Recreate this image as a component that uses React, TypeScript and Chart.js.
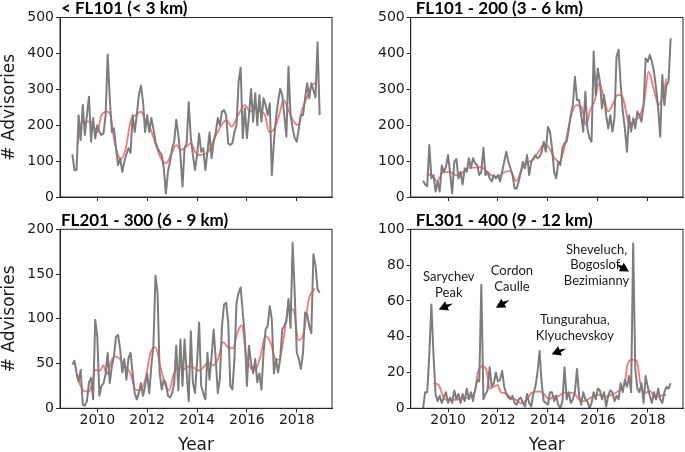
import React, { useEffect, useRef } from "react";
import { Chart, registerables } from "chart.js";

Chart.register(...registerables);

// ---------- data ----------
const FIRST_YEAR = 2009; // first monthly value = Jan 2009
const YEAR_TICKS = [2010, 2012, 2014, 2016, 2018];

// < FL101 (< 3 km): monthly advisories
const belowFL101 = [
  119, 75, 75, 228, 159, 256, 173, 228, 279, 154,
  220, 163, 200, 181, 173, 177, 228, 397, 275, 181,
  191, 136, 89, 108, 70, 98, 119, 136, 123, 228,
  181, 228, 284, 310, 266, 181, 228, 181, 220, 191,
  154, 136, 126, 117, 80, 10, 70, 98, 136, 154,
  215, 173, 117, 29, 136, 150, 264, 165,
  117, 75, 117, 177, 126, 136, 75, 126, 180, 108,
  154, 181, 220, 200, 238, 242, 228, 150, 145, 150,
  181, 200, 321, 360, 164, 247, 164, 228, 301, 210,
  289, 200, 284, 210, 275, 256, 228, 261, 61, 154,
  220, 266, 301, 284, 228, 168, 363, 228, 191, 164,
  154, 191, 228, 228, 275, 317, 275, 317, 298, 277,
  431, 228,
];
// smoothed curve: [month index from Jan 2009, value]
const belowFL101Smooth: [number, number][] = [
  [2.6, 150], [4.8, 210], [8.7, 210], [12, 181], [14, 228], [16.8, 238], [18.4, 228],
  [20, 163], [22, 117], [23.3, 105], [25.7, 136], [28, 210], [30.5, 228], [33, 238],
  [35.4, 210], [37.5, 191], [40.2, 145], [42.6, 108], [45, 94], [47.5, 117], [50, 145],
  [52.3, 131], [54.8, 140], [57.2, 150], [59, 126], [61.2, 117], [65.3, 126], [68.5, 164],
  [71.7, 200], [74.2, 214], [76.6, 196], [79.8, 228], [83, 256], [85.5, 238], [87.9, 247],
  [90.3, 238], [92.7, 228], [94.7, 181], [96.8, 186], [99.5, 228], [101.6, 270], [104, 242],
  [106.5, 210], [108.6, 200], [110.5, 242], [113, 279], [115, 307], [116.7, 317], [117.5, 311],
];

// FL101 - 200 (3 - 6 km)
const fl101to200 = [
  45, 35, 30, 145, 52, 61, 15, 43, 15, 88,
  70, 84, 117, 66, 10, 98, 106, 52, 70, 35,
  80, 70, 108, 80, 108, 94, 89, 61, 70, 137,
  61, 70, 52, 43, 61, 52, 61, 43, 70, 98,
  126, 98, 80, 61, 24, 24, 43, 70, 98, 80,
  117, 61, 98, 108, 117, 108,
  112, 126, 154, 126, 196, 182, 136, 70, 52, 98,
  89, 136, 150, 154, 187, 228, 256, 335, 270, 270,
  228, 182, 293, 191, 164, 154, 405, 284, 358, 321,
  247, 284, 228, 191, 228, 182, 219, 391, 410, 312,
  238, 191, 126, 228, 182, 219, 191, 238, 228, 210,
  256, 386, 377, 396, 377, 349, 303, 247, 168, 340,
  256, 312, 321, 442,
];
const fl101to200Smooth: [number, number][] = [
  [1.8, 65], [5, 56], [6.6, 44], [9.5, 68], [13, 70], [16, 60], [19.5, 70], [22, 82],
  [25.2, 82], [27.6, 84], [30.5, 72], [33, 60], [35.5, 54], [38.5, 68], [42, 72], [44.8, 44],
  [47.5, 78], [50, 95], [53, 105], [56, 130], [58.3, 147], [60.7, 136], [63.2, 108], [65.6, 98],
  [68, 140], [71.2, 228], [73.7, 256], [76.1, 251], [78.5, 200], [80.1, 238], [82.6, 270],
  [84.7, 317], [86.6, 284], [89, 238], [91.4, 261], [93.4, 284], [95.5, 284], [97.6, 238],
  [99.2, 200], [101.5, 214], [104, 224], [106.3, 266], [108.4, 349], [110.8, 303],
  [113.3, 256], [115.7, 293], [117, 330],
];

// FL201 - 300 (6 - 9 km)
const fl201to300 = [
  49, 53, 40, 30, 43, 4, 3, 8, 29, 34,
  10, 99, 80, 14, 25, 28, 38, 62, 28, 47,
  58, 80, 82, 66, 40, 55, 32, 56, 62, 39,
  17, 10, 17, 28, 14, 25, 39, 17, 47, 70,
  148, 129, 40, 21, 32, 28, 14, 12, 17, 28,
  70, 20, 77, 25, 77, 40, 8, 86,
  29, 17, 51, 96, 25, 17, 10, 62, 32, 58,
  88, 55, 17, 33, 92, 116, 118, 96, 25, 21,
  55, 118, 129, 135, 107, 80, 25, 70, 51, 39,
  55, 29, 39, 21, 62, 88, 92, 114, 99, 39,
  55, 40, 55, 88, 92, 97, 122, 90, 185, 129,
  62, 55, 44, 62, 107, 105, 92, 84, 172, 160,
  133, 129,
];
const fl201to300Smooth: [number, number][] = [
  [1.9, 38], [3.6, 27], [6, 19], [8.2, 19], [9.5, 28], [11, 43], [13.3, 42], [14.9, 48],
  [16.5, 38], [19, 54], [20.6, 58], [23, 55], [25.4, 47], [27.9, 39], [30.3, 21], [32.7, 20],
  [35.2, 33], [37.6, 62], [40, 68], [42.5, 45], [44.9, 25], [46.5, 20], [48.9, 39], [51.4, 46],
  [53.8, 44], [56.2, 47], [58.7, 45], [61.1, 42], [63.5, 47], [65.2, 51], [67.6, 48], [70, 54],
  [72.5, 74], [74.9, 68], [77.2, 67], [79.6, 86], [81.5, 93], [83.5, 62], [85.4, 47],
  [87.8, 42], [90.5, 58], [92.9, 81], [95.3, 74], [97.8, 55], [99.5, 54], [101.8, 80],
  [104, 112], [106.4, 110], [108.9, 76], [111.3, 84], [113.8, 122], [116.7, 134],
];

// FL301 - 400 (9 - 12 km)
const fl301to400 = [
  0, 9, 9, 30, 58, 30, 8, 4, 7, 3,
  6, 9, 3, 6, 3, 10, 5, 8, 3, 8,
  4, 11, 5, 9, 4, 10, 16, 15, 69, 5,
  8, 10, 23, 12, 14, 20, 15, 16, 21, 12,
  8, 6, 5, 7, 3, 2, 5, 6, 3, 1,
  8, 3, 1, 8, 12, 20, 32,
  14, 4, 3, 2, 9, 9, 4, 7, 2, 0,
  4, 23, 5, 9, 3, 5, 9, 22, 7, 2,
  9, 5, 4, 0, 3, 9, 5, 11, 10, 5,
  9, 1, 7, 10, 9, 4, 7, 5, 14, 9,
  16, 12, 18, 9,
  92, 22, 11, 9, 14, 3, 18, 12, 7, 3,
  9, 5, 11, 5, 3, 9, 12, 11, 14,
];
const fl301to400Smooth: [number, number][] = [
  [5, 14], [7.5, 13], [9.5, 7], [11, 4.7], [14, 4.7], [17.2, 5], [20.4, 5.6], [23, 6.5],
  [25, 10], [26.5, 21], [28.5, 23.5], [30.5, 21], [32, 11], [33.8, 12], [35.8, 13],
  [37.4, 9], [39.9, 8.4], [42.3, 5.6], [44.7, 4.7], [47.2, 2.8], [49.6, 4.7], [52, 8.4],
  [54.5, 9.3], [56.9, 9.3], [58.5, 7.4], [60.5, 5], [62.6, 6.5], [65.3, 7], [68, 8.8],
  [70.5, 8.6], [72.3, 8.6], [74.9, 5], [77.5, 4], [80, 5.6], [82.3, 7], [85, 7.5], [87.5, 6.5],
  [90.5, 7.5], [93.4, 9.3], [95.5, 11], [97, 14], [98.2, 24], [100.3, 27.2], [102.7, 26.4],
  [104.4, 14.3], [106.8, 8.7], [109.2, 9.6], [111.6, 5.9], [114, 7], [116.8, 7.6],
];

// eruption labels on the FL301-400 panel (data units: year, advisories)
const eruptionNotes = [
  { lines: ["Sarychev", "Peak"], at: [2010.03, 68.9], tip: [2009.63, 55.2], tail: [2010.12, 58.1] },
  { lines: ["Cordon", "Caulle"], at: [2012.56, 72.2], tip: [2011.92, 56.2], tail: [2012.39, 60.0] },
  { lines: ["Tungurahua,", "Klyuchevskoy"], at: [2015.08, 45.1], tip: [2014.15, 30.2], tail: [2014.66, 33.0] },
  { lines: ["Sheveluch,", "Bogoslof,", "Bezimianny"], at: [2015.95, 80.1], tip: [2017.25, 76.4], tail: [2016.82, 79.9] },
];

// ---------- styling ----------
const AXIS_COLOR = "#262626";
const GREY = "#7d7d7d";
const RED = "rgba(255, 30, 30, 0.62)";
const TICK_FONT = { family: "'DejaVu Sans', sans-serif", size: 14 };
const AXIS_TITLE_FONT = { family: "'DejaVu Sans', sans-serif", size: 17, lineHeight: 1 };
const X_TITLE_FONT = { family: "'DejaVu Sans', sans-serif", size: 17, lineHeight: 0.8 };

type Panel = {
  title: string;
  monthly: number[];
  smooth: [number, number][];
  yMax: number;
  yStep: number;
  box: { left: number; top: number; width: number; height: number };
  area: { left: number; top: number; right: number; bottom: number };
  titleDx: number;
  yTitle: boolean;
  xLabels: boolean;
  notes: typeof eruptionNotes;
};

const PANELS: Panel[] = [
  {
    title: "< FL101 (< 3 km)", monthly: belowFL101, smooth: belowFL101Smooth, yMax: 500, yStep: 100,
    box: { left: 0, top: 0, width: 342, height: 212 }, area: { left: 60, top: 17.5, right: 10, bottom: 15 },
    titleDx: 1, yTitle: true, xLabels: false, notes: [],
  },
  {
    title: "FL101 - 200 (3 - 6 km)", monthly: fl101to200, smooth: fl101to200Smooth, yMax: 500, yStep: 100,
    box: { left: 342, top: 0, width: 343, height: 212 }, area: { left: 68.7, top: 17.5, right: 2, bottom: 15 },
    titleDx: 5, yTitle: false, xLabels: false, notes: [],
  },
  {
    title: "FL201 - 300 (6 - 9 km)", monthly: fl201to300, smooth: fl201to300Smooth, yMax: 200, yStep: 50,
    box: { left: 0, top: 212, width: 342, height: 240 }, area: { left: 60, top: 17.3, right: 10, bottom: 43.7 },
    titleDx: 1, yTitle: true, xLabels: true, notes: [],
  },
  {
    title: "FL301 - 400 (9 - 12 km)", monthly: fl301to400, smooth: fl301to400Smooth, yMax: 100, yStep: 20,
    box: { left: 342, top: 212, width: 343, height: 240 }, area: { left: 68.7, top: 17.3, right: 2, bottom: 43.7 },
    titleDx: 5, yTitle: false, xLabels: true, notes: eruptionNotes,
  },
];

const decorPlugin = {
  id: "panelDecor",
  afterDraw(chart: any, _args: any, opts: any) {
    const { ctx, chartArea: a, scales } = chart;
    ctx.save();
    // full frame (all four spines)
    ctx.strokeStyle = AXIS_COLOR;
    ctx.lineWidth = 1;
    ctx.strokeRect(a.left, a.top, a.right - a.left, a.bottom - a.top);
    // panel title
    ctx.fillStyle = "#000";
    ctx.font = "bold 17px Lato, sans-serif";
    ctx.textAlign = "left";
    ctx.textBaseline = "alphabetic";
    ctx.fillText(opts.title, a.left + opts.titleDx, a.top - 3.8);
    // eruption notes
    const notes = opts.notes || [];
    for (const n of notes) {
      const cx = scales.x.getPixelForValue(n.at[0]);
      const cy = scales.y.getPixelForValue(n.at[1]);
      const lh = 15.5;
      ctx.font = "13px Lato, sans-serif";
      ctx.fillStyle = "#1a1a1a";
      ctx.textAlign = "center";
      ctx.textBaseline = "middle";
      const y0 = cy - ((n.lines.length - 1) * lh) / 2;
      n.lines.forEach((t: string, i: number) => ctx.fillText(t, cx, y0 + i * lh));
      // fancy arrow
      const tx = scales.x.getPixelForValue(n.tip[0]);
      const ty = scales.y.getPixelForValue(n.tip[1]);
      const sx = scales.x.getPixelForValue(n.tail[0]);
      const sy = scales.y.getPixelForValue(n.tail[1]);
      const dx = tx - sx, dy = ty - sy;
      const len = Math.hypot(dx, dy) || 1;
      const ux = dx / len, uy = dy / len;
      const nx = -uy, ny = ux;
      const headLen = 9, headW = 5, stemW = 1.6;
      const bx = tx - ux * headLen, by = ty - uy * headLen;
      ctx.fillStyle = "#000";
      ctx.beginPath();
      ctx.moveTo(tx, ty);
      ctx.lineTo(bx + nx * headW, by + ny * headW);
      ctx.lineTo(bx + nx * stemW, by + ny * stemW);
      ctx.lineTo(sx - ux * 2, sy - uy * 2);
      ctx.lineTo(bx - nx * stemW, by - ny * stemW);
      ctx.lineTo(bx - nx * headW, by - ny * headW);
      ctx.closePath();
      ctx.fill();
    }
    ctx.restore();
  },
};

function buildConfig(p: Panel): any {
  const lastX = FIRST_YEAR + (p.monthly.length - 1) / 12;
  const span = lastX - FIRST_YEAR;
  const xMin = FIRST_YEAR - 0.05 * span;
  const xMax = lastX + 0.05 * span;
  const gridOpts = {
    display: true,
    drawOnChartArea: false,
    drawTicks: true,
    tickLength: 4,
    tickColor: AXIS_COLOR,
    tickWidth: 1,
  };
  return {
    type: "line",
    data: {
      datasets: [
        {
          data: p.monthly.map((v, i) => ({ x: FIRST_YEAR + i / 12, y: v })),
          borderColor: GREY,
          borderWidth: 2,
          pointRadius: 0,
          tension: 0,
          borderJoinStyle: "round",
          fill: false,
        },
        {
          data: p.smooth.map(([m, v]) => ({ x: FIRST_YEAR + m / 12, y: v })),
          borderColor: RED,
          borderWidth: 1.8,
          pointRadius: 0,
          cubicInterpolationMode: "monotone",
          fill: false,
        },
      ],
    },
    options: {
      animation: false,
      responsive: false,
      devicePixelRatio: 1,
      events: [],
      layout: { padding: { left: 0, top: p.area.top, right: p.area.right, bottom: 0 } },
      plugins: {
        legend: { display: false },
        tooltip: { enabled: false },
        panelDecor: { title: p.title, titleDx: p.titleDx, notes: p.notes },
      },
      scales: {
        x: {
          type: "linear",
          min: xMin,
          max: xMax,
          afterBuildTicks: (s: any) => {
            s.ticks = YEAR_TICKS.map((value) => ({ value }));
          },
          afterFit: (s: any) => {
            s.height = p.area.bottom;
          },
          grid: gridOpts,
          border: { display: true, color: AXIS_COLOR, width: 1 },
          ticks: {
            autoSkip: false,
            maxRotation: 0,
            padding: 0,
            font: TICK_FONT,
            color: "#1a1a1a",
            callback: (v: number) => (p.xLabels ? String(v) : ""),
          },
          title: {
            display: p.xLabels,
            text: "Year",
            font: X_TITLE_FONT,
            color: "#1a1a1a",
            padding: { top: 0, bottom: 0 },
          },
        },
        y: {
          min: 0,
          max: p.yMax,
          afterFit: (s: any) => {
            s.width = p.area.left;
          },
          grid: gridOpts,
          border: { display: true, color: AXIS_COLOR, width: 1 },
          ticks: { stepSize: p.yStep, padding: 2, font: TICK_FONT, color: "#1a1a1a" },
          title: {
            display: p.yTitle,
            text: "# Advisories",
            font: AXIS_TITLE_FONT,
            color: "#1a1a1a",
            padding: { top: 1.5, bottom: 0 },
          },
        },
      },
    },
    plugins: [decorPlugin],
  };
}

function PanelChart({ panel }: { panel: Panel }) {
  const ref = useRef<HTMLCanvasElement | null>(null);
  useEffect(() => {
    if (!ref.current) return;
    const chart = new Chart(ref.current, buildConfig(panel));
    return () => chart.destroy();
  }, [panel]);
  const { left, top, width, height } = panel.box;
  return (
    <canvas
      ref={ref}
      width={width}
      height={height}
      style={{ position: "absolute", left, top, width, height, display: "block" }}
    />
  );
}

export default function App() {
  return (
    <div style={{ position: "absolute", left: 0, top: 0, width: 685, height: 452, background: "#fff", overflow: "hidden" }}>
      {PANELS.map((p) => (
        <PanelChart key={p.title} panel={p} />
      ))}
    </div>
  );
}
